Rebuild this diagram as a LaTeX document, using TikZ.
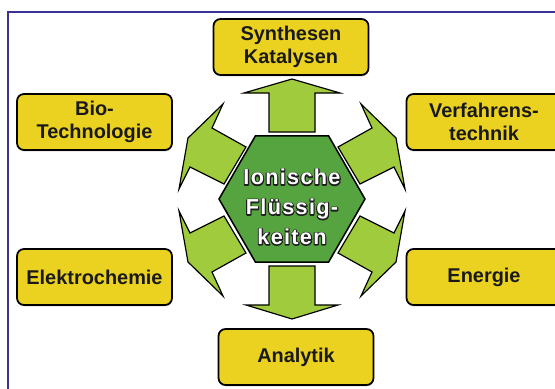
\documentclass[tikz,border=0pt]{standalone}
\usepackage{fontspec}
\setmainfont{Liberation Sans}
\newfontfamily\hexfont[LetterSpace=6]{Liberation Sans}
\usetikzlibrary{shapes.geometric,shadows}

\definecolor{boxyellow}{RGB}{236,210,32}
\definecolor{arrowgreen}{RGB}{160,203,60}
\definecolor{hexgreen}{RGB}{86,164,64}
\definecolor{frameblue}{RGB}{58,50,150}

\newcommand\rimtext[1]{\special{pdf:literal direct 0.12 0.12 0.12 RG 1.9 w 1 j 1 Tr}#1\special{pdf:literal direct 0 Tr}}

\tikzset{
  field/.style={draw=black, line width=1.5pt, fill=boxyellow, rounded corners=6pt,
    minimum width=4.65cm, minimum height=1.68cm, inner sep=0pt, align=center,
    font=\fontsize{17}{20}\selectfont\bfseries, text=black!90,
    drop shadow={shadow xshift=0.4pt, shadow yshift=-1.2pt, opacity=0.45}},
  blockarrow/.style={draw=black, line width=1pt, fill=arrowgreen, line join=miter},
  hexbox/.style={regular polygon, regular polygon sides=6, minimum size=4.38cm,
    inner sep=0pt, draw=black, line width=1.3pt, fill=hexgreen},
  hextext/.style={align=center, inner sep=0pt,
    font=\hexfont\fontsize{18.5}{25.5}\selectfont\bfseries}
}

\begin{document}
\begin{tikzpicture}[x=0.03cm, y=-0.03cm]
  \useasboundingbox (0,0) rectangle (555,388);
  \clip (0,0) rectangle (555,388);
  \draw [frameblue, line width=1.6pt] (8,400) -- (8,12) -- (570,12);

  \foreach \sx/\sy in {1/1,-1/1,1/-1,-1/-1}
    \draw [blockarrow, shift={(292,200)}, xscale=\sx, yscale=\sy]
      (-46,-53) -- (-80,-72) -- (-69,-96) -- (-104,-62) -- (-113,-11)
      -- (-102,-33) -- (-68,-16) -- cycle;
  \draw [blockarrow] (269,132) -- (269,93) -- (244,93) -- (292,79) -- (340,93)
    -- (315,93) -- (315,132) -- cycle;
  \draw [blockarrow] (269,266) -- (269,305) -- (246,305) -- (292,319) -- (338,305)
    -- (315,305) -- (315,266) -- cycle;

  \node [hexbox] (hex) at (292,199) {};
  \node [hextext, text=black!85] (rim) at (292,207)
    {\rimtext{Ionische}\\\rimtext{Flüssig-}\\\rimtext{keiten}};
  \node [hextext, text=white] (ionic) at (292,207) {Ionische\\Flüssig-\\keiten};

  \node [field] (synth) at (291,47) {Synthesen\\Katalysen};
  \node [field] (bio) at (94.5,122) {Bio-\\Technologie};
  \node [field] (verf) at (484,122) {Verfahrens-\\technik};
  \node [field] (elektro) at (94.5,277) {Elektrochemie};
  \node [field] (energie) at (484,277) {Energie};
  \node [field] (analytik) at (296,357) {Analytik};
\end{tikzpicture}
\end{document}
